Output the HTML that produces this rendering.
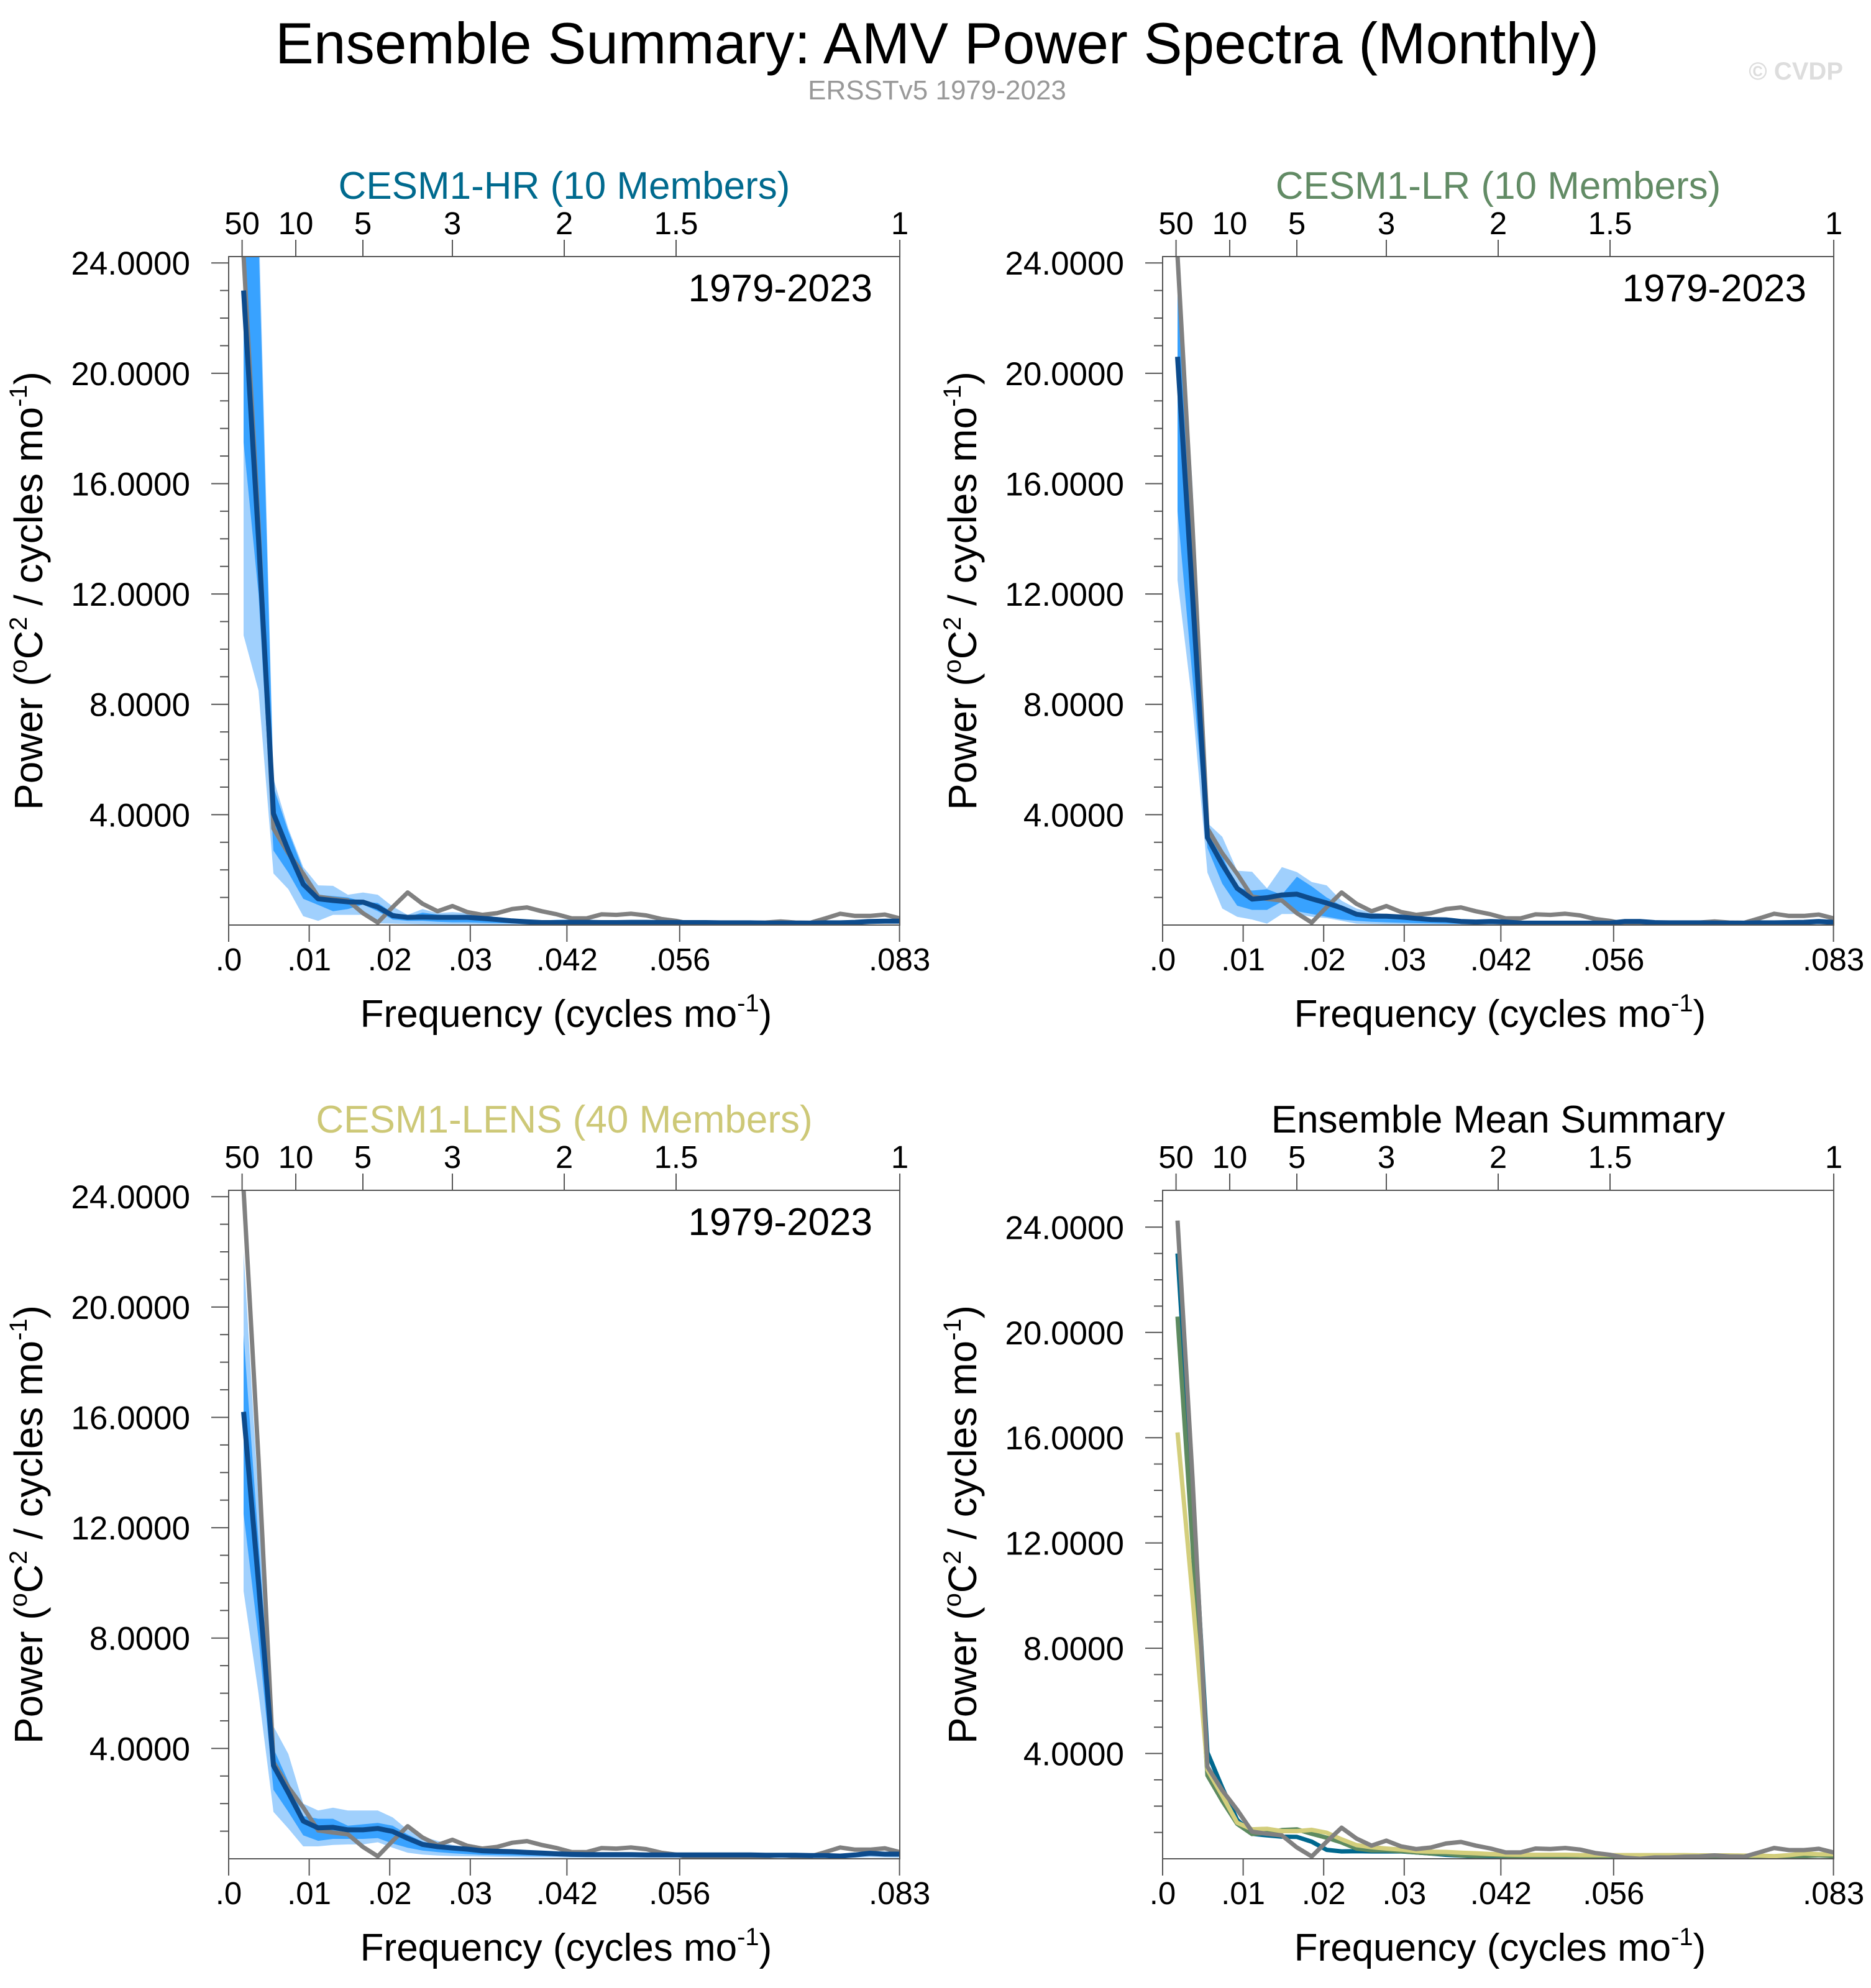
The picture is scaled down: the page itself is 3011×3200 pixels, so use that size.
<!DOCTYPE html>
<html><head><meta charset="utf-8"><style>
html,body{margin:0;padding:0;background:#fff;}
svg{display:block;font-family:"Liberation Sans",sans-serif;}
</style></head><body>
<svg id="fig" width="3011" height="3200" viewBox="0 0 3011 3200" xmlns="http://www.w3.org/2000/svg">
<text x="1508" y="102" font-size="94" text-anchor="middle" fill="#000" textLength="2130" lengthAdjust="spacingAndGlyphs">Ensemble Summary: AMV Power Spectra (Monthly)</text>
<text x="1508" y="160" font-size="44" text-anchor="middle" fill="#999">ERSSTv5 1979-2023</text>
<text x="2966" y="128" font-size="40" font-weight="bold" text-anchor="end" fill="#ddd">© CVDP</text>
</svg>
<script>
const freq = [0.00185,0.0037,0.00556,0.00741,0.00926,0.01111,0.01296,0.01481,0.01667,0.01852,0.02037,0.02222,0.02407,0.02593,0.02778,0.02963,0.03148,0.03333,0.03519,0.03704,0.03889,0.04074,0.04259,0.04444,0.0463,0.04815,0.05,0.05185,0.0537,0.05556,0.05741,0.05926,0.06111,0.06296,0.06481,0.06667,0.06852,0.07037,0.07222,0.07407,0.07593,0.07778,0.07963,0.08148,0.08333];
const obs = [24.25,14.5,3.5,2.6,1.86,1.03,0.95,0.89,0.43,0.09,0.65,1.18,0.77,0.5,0.69,0.47,0.37,0.43,0.58,0.64,0.5,0.39,0.24,0.24,0.39,0.37,0.41,0.35,0.22,0.15,0.04,0.0,0.05,0.05,0.08,0.09,0.13,0.09,0.08,0.24,0.41,0.33,0.33,0.38,0.24];
const hrMean = [23.0,14,4.04,2.7,1.48,0.95,0.89,0.84,0.83,0.65,0.34,0.28,0.29,0.28,0.28,0.28,0.24,0.2,0.15,0.12,0.09,0.09,0.1,0.1,0.09,0.09,0.1,0.1,0.09,0.09,0.09,0.09,0.08,0.08,0.08,0.07,0.07,0.07,0.07,0.08,0.08,0.1,0.13,0.14,0.14];
const hrOuterHi = [30,26,5.3,3.5,2.1,1.44,1.42,1.1,1.18,1.1,0.67,0.37,0.58,0.43,0.47,0.43,0.39,0.28,0.2,0.16,0.15,0.2,0.2,0.2,0.17,0.15,0.15,0.15,0.15,0.15,0.15,0.15,0.14,0.14,0.14,0.14,0.14,0.14,0.14,0.15,0.15,0.17,0.2,0.21,0.21];
const hrOuterLo = [10.5,8.5,1.87,1.3,0.32,0.15,0.37,0.37,0.37,0.06,0.05,0.04,0.03,0.03,0.03,0.03,0.02,0.02,0.02,0.02,0.02,0.02,0.02,0.02,0.02,0.02,0.02,0.02,0.02,0.02,0.02,0.02,0.02,0.02,0.02,0.02,0.02,0.02,0.02,0.02,0.02,0.03,0.04,0.05,0.05];
const hrInnerHi = [26,25,5.0,3.4,2.0,1.1,1.05,1.0,0.85,0.8,0.45,0.3,0.45,0.38,0.35,0.32,0.3,0.25,0.18,0.14,0.12,0.13,0.14,0.14,0.12,0.12,0.12,0.12,0.12,0.12,0.12,0.12,0.11,0.11,0.11,0.11,0.11,0.11,0.11,0.12,0.12,0.14,0.16,0.17,0.17];
const hrInnerLo = [17.5,12,2.7,1.9,0.95,0.73,0.5,0.58,0.74,0.5,0.2,0.15,0.15,0.12,0.1,0.1,0.08,0.07,0.06,0.06,0.06,0.06,0.06,0.06,0.06,0.06,0.06,0.06,0.06,0.06,0.06,0.06,0.05,0.05,0.05,0.05,0.05,0.05,0.05,0.05,0.05,0.07,0.09,0.1,0.1];
const lrMean = [20.6,12,3.17,2.2,1.33,0.94,0.99,1.09,1.12,0.95,0.8,0.62,0.39,0.32,0.32,0.29,0.24,0.2,0.19,0.13,0.11,0.13,0.11,0.07,0.07,0.07,0.07,0.07,0.07,0.07,0.13,0.13,0.09,0.08,0.08,0.08,0.07,0.07,0.07,0.08,0.08,0.09,0.1,0.13,0.1];
const lrOuterHi = [24.3,16,3.7,3.2,1.97,1.93,1.33,2.1,1.92,1.56,1.44,0.88,0.6,0.45,0.4,0.35,0.25,0.2,0.25,0.2,0.18,0.17,0.15,0.15,0.15,0.15,0.15,0.15,0.15,0.15,0.18,0.18,0.15,0.15,0.15,0.15,0.15,0.15,0.15,0.15,0.15,0.16,0.17,0.19,0.17];
const lrOuterLo = [12.5,8,1.9,0.6,0.3,0.2,0.05,0.4,0.4,0.3,0.25,0.15,0.05,0.04,0.03,0.03,0.02,0.02,0.02,0.02,0.02,0.02,0.02,0.02,0.02,0.02,0.02,0.02,0.02,0.02,0.02,0.02,0.02,0.02,0.02,0.02,0.02,0.02,0.02,0.02,0.02,0.02,0.02,0.03,0.03];
const lrInnerHi = [23,14,3.3,2.5,1.35,1.25,1.3,1.1,1.75,1.4,1.0,0.7,0.45,0.35,0.3,0.25,0.2,0.17,0.17,0.14,0.13,0.14,0.13,0.12,0.12,0.12,0.12,0.12,0.12,0.12,0.15,0.15,0.12,0.12,0.12,0.12,0.12,0.12,0.12,0.12,0.12,0.13,0.14,0.16,0.14];
const lrInnerLo = [15,9,2.8,1.5,0.7,0.55,0.55,0.85,0.5,0.4,0.3,0.2,0.15,0.12,0.1,0.08,0.07,0.06,0.05,0.04,0.04,0.04,0.04,0.03,0.03,0.03,0.03,0.03,0.03,0.03,0.05,0.05,0.04,0.03,0.03,0.03,0.03,0.03,0.03,0.03,0.03,0.04,0.05,0.06,0.05];
const lensMean = [16.2,10,3.38,2.4,1.37,1.12,1.14,1.05,1.05,1.1,0.99,0.74,0.52,0.44,0.39,0.35,0.29,0.27,0.26,0.23,0.21,0.18,0.16,0.15,0.15,0.15,0.15,0.14,0.14,0.14,0.14,0.14,0.14,0.14,0.14,0.13,0.13,0.13,0.12,0.12,0.1,0.14,0.2,0.17,0.17];
const lensOuterHi = [22,13,4.8,3.8,2.0,1.75,1.85,1.75,1.75,1.75,1.5,1.05,0.8,0.65,0.5,0.42,0.38,0.35,0.32,0.3,0.25,0.22,0.2,0.2,0.2,0.2,0.2,0.2,0.2,0.2,0.2,0.2,0.2,0.2,0.2,0.2,0.2,0.2,0.2,0.2,0.18,0.2,0.25,0.23,0.22];
const lensOuterLo = [9.7,6,1.7,1.1,0.45,0.45,0.5,0.52,0.52,0.6,0.4,0.22,0.15,0.12,0.1,0.09,0.08,0.07,0.06,0.05,0.05,0.05,0.04,0.04,0.04,0.04,0.04,0.04,0.04,0.04,0.04,0.04,0.04,0.04,0.04,0.04,0.04,0.04,0.04,0.04,0.03,0.04,0.06,0.05,0.04];
const lensInnerHi = [19,11.5,4.0,2.8,1.55,1.45,1.45,1.2,1.25,1.3,1.2,0.88,0.62,0.53,0.46,0.4,0.36,0.33,0.3,0.28,0.24,0.21,0.19,0.18,0.18,0.18,0.18,0.17,0.17,0.17,0.17,0.17,0.17,0.17,0.17,0.16,0.16,0.16,0.15,0.15,0.13,0.17,0.23,0.2,0.2];
const lensInnerLo = [12.5,8,2.5,1.7,0.85,0.65,0.72,0.72,0.72,0.75,0.55,0.4,0.3,0.24,0.2,0.17,0.14,0.13,0.12,0.11,0.1,0.09,0.08,0.08,0.08,0.08,0.08,0.08,0.08,0.08,0.08,0.08,0.08,0.08,0.08,0.08,0.08,0.08,0.07,0.07,0.06,0.08,0.11,0.1,0.1];
const yMajorTicks = [4,8,12,16,20,24];
const yTickLabels = ["4.0000","8.0000","12.0000","16.0000","20.0000","24.0000"];
const xTickValues = [0,0.01,0.02,0.03,0.042,0.056,0.0833];
const xTickLabels = [".0",".01",".02",".03",".042",".056",".083"];
const periodValues = [50,10,5,3,2,1.5,1];
const periodLabels = ["50","10","5","3","2","1.5","1"];

const NS = "http://www.w3.org/2000/svg";
const svg = document.getElementById('fig');
const XMAX = 0.08333;
function mk(tag, attrs, parent){
  const e = document.createElementNS(NS, tag);
  for (const k in attrs) e.setAttribute(k, attrs[k]);
  (parent||svg).appendChild(e);
  return e;
}
let clipId = 0;
function panel(cfg){
  const ox = cfg.ox, oy = cfg.oy, w = 1080, h = 1076, ymax = cfg.ymax;
  const g = mk('g', {});
  
  
  const xs = f => ox + f / XMAX * w;
  const ys = v => oy + h - v / ymax * h;
  clipId++;
  const cp = mk('clipPath', {id: 'cp' + clipId}, g);
  mk('rect', {x: ox, y: oy, width: w, height: h}, cp);
  const data = mk('g', {'clip-path': 'url(#cp' + clipId + ')'}, g);
  
  
  function band(hi, lo, color, name){
    let pts = [];
    for (let i = 0; i < freq.length; i++) pts.push(xs(freq[i]).toFixed(1) + ',' + ys(hi[i]).toFixed(1));
    for (let i = freq.length - 1; i >= 0; i--) pts.push(xs(freq[i]).toFixed(1) + ',' + ys(lo[i]).toFixed(1));
    const p = mk('polygon', {points: pts.join(' '), fill: color, stroke: 'none'}, data);
    
    
  }
  function line(vals, color, width, name){
    const pts = vals.map((v, i) => xs(freq[i]).toFixed(1) + ',' + ys(v).toFixed(1));
    const p = mk('polyline', {points: pts.join(' '), fill: 'none', stroke: color, 'stroke-width': width, 'stroke-linejoin': 'round'}, data);
    
    
  }
  if (cfg.bands) {
    band(cfg.bands[0], cfg.bands[1], '#a0d0fd', 'outer-spread-band');
    band(cfg.bands[2], cfg.bands[3], '#38a2ff', 'inner-spread-band');
    line(obs, '#808080', 7, 'observed-spectrum-line');
    line(cfg.mean, '#0d4b8c', 8, 'ensemble-mean-line');
  } else {
    line(hrMean, '#00688e', 7, 'cesm1-hr-mean-line');
    line(lrMean, '#5d8a60', 7, 'cesm1-lr-mean-line');
    line(lensMean, '#d3ce7c', 7, 'cesm1-lens-mean-line');
    line(obs, '#808080', 7, 'observed-spectrum-line');
  }
  const fr = mk('rect', {x: ox, y: oy, width: w, height: h, fill: 'none', stroke: '#555', 'stroke-width': 2}, g);
  
  
  for (let v = 1; v < ymax; v++) {
    const major = yMajorTicks.indexOf(v) >= 0;
    const t = mk('line', {x1: ox - (major ? 28 : 14), x2: ox, y1: ys(v), y2: ys(v), stroke: '#555', 'stroke-width': 2}, g);
    
    
  }
  yMajorTicks.forEach((v, i) => {
    const t = mk('text', {x: ox - 62, y: ys(v) + 19, 'font-size': 53, 'text-anchor': 'end', fill: '#000'}, g);
    t.textContent = yTickLabels[i];
    
    
  });
  xTickValues.forEach((f, i) => {
    const t = mk('line', {x1: xs(f), x2: xs(f), y1: oy + h, y2: oy + h + 27, stroke: '#555', 'stroke-width': 2}, g);
    
    
    const l = mk('text', {x: xs(f), y: oy + h + 73, 'font-size': 51, 'text-anchor': 'middle', fill: '#000'}, g);
    l.textContent = xTickLabels[i];
    
    
  });
  periodValues.forEach((p, i) => {
    const f = 1 / (p * 12);
    const t = mk('line', {x1: xs(f), x2: xs(f), y1: oy - 27, y2: oy, stroke: '#555', 'stroke-width': 2}, g);
    
    
    const l = mk('text', {x: xs(f), y: oy - 36, 'font-size': 51, 'text-anchor': 'middle', fill: '#000'}, g);
    l.textContent = periodLabels[i];
    
    
  });
  const tt = mk('text', {x: ox + w / 2, y: oy - 93, 'font-size': 62, 'text-anchor': 'middle', fill: cfg.color}, g);
  tt.textContent = cfg.title;
  
  
  if (cfg.bands) {
    const yr = mk('text', {x: ox + w - 44, y: oy + 72, 'font-size': 62, 'text-anchor': 'end', fill: '#000'}, g);
    yr.textContent = '1979-2023';
    
    
  }
  const xt = mk('text', {x: ox + w / 2 + 3, y: oy + h + 164, 'font-size': 62, 'text-anchor': 'middle', fill: '#000'}, g);
  xt.innerHTML = 'Frequency (cycles mo<tspan dy="-25" font-size="40">-1</tspan><tspan dy="25">)</tspan>';
  
  
  const cx = ox - 300, cy = oy + h / 2;
  const yt = mk('text', {x: cx, y: cy, 'font-size': 64, 'text-anchor': 'middle', fill: '#000', transform: 'rotate(-90 ' + cx + ' ' + cy + ')'}, g);
  yt.innerHTML = 'Power (<tspan dy="-25" font-size="40">o</tspan><tspan dy="25">C</tspan><tspan dy="-25" font-size="40">2</tspan><tspan dy="25"> / cycles mo</tspan><tspan dy="-25" font-size="40">-1</tspan><tspan dy="25">)</tspan>';
  
  
}
panel({name: 'cesm1-hr-panel', ox: 368, oy: 413, ymax: 24.23, title: 'CESM1-HR (10 Members)', color: '#006a8e', mean: hrMean, bands: [hrOuterHi, hrOuterLo, hrInnerHi, hrInnerLo]});
panel({name: 'cesm1-lr-panel', ox: 1871, oy: 413, ymax: 24.23, title: 'CESM1-LR (10 Members)', color: '#628b65', mean: lrMean, bands: [lrOuterHi, lrOuterLo, lrInnerHi, lrInnerLo]});
panel({name: 'cesm1-lens-panel', ox: 368, oy: 1916, ymax: 24.23, title: 'CESM1-LENS (40 Members)', color: '#cdc877', mean: lensMean, bands: [lensOuterHi, lensOuterLo, lensInnerHi, lensInnerLo]});
panel({name: 'ensemble-mean-summary-panel', ox: 1871, oy: 1916, ymax: 25.4, title: 'Ensemble Mean Summary', color: '#000', mean: null, bands: null});
</script>
</body></html>
